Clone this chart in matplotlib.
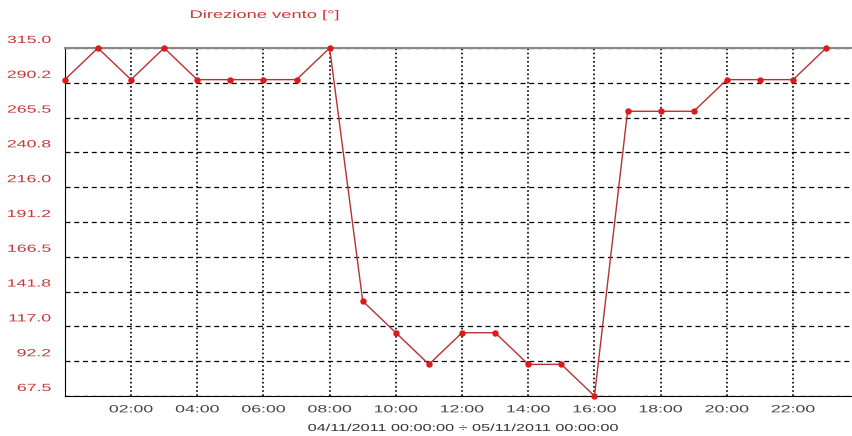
import numpy as np
import matplotlib
matplotlib.use("Agg")
import matplotlib.pyplot as plt
import matplotlib.transforms as mtransforms
import matplotlib.patheffects as pe

# hourly wind direction, 04/11/2011
hours = [0, 1, 2, 3, 4, 5, 6, 7, 8, 9, 10, 11, 12, 13, 14, 15, 16, 17, 18, 19, 20, 21, 22, 23]
direction = [292.5, 315.0, 292.5, 315.0, 292.5, 292.5, 292.5, 292.5, 315.0, 135.0, 112.5, 90.0,
             112.5, 112.5, 90.0, 90.0, 67.5, 270.0, 270.0, 270.0, 292.5, 292.5, 292.5, 315.0]

xtick_pos = [2, 4, 6, 8, 10, 12, 14, 16, 18, 20, 22]
xtick_labels = ["02:00", "04:00", "06:00", "08:00", "10:00", "12:00",
                "14:00", "16:00", "18:00", "20:00", "22:00"]
ytick_vals = [67.5, 92.2, 117.0, 141.8, 166.5, 191.2, 216.0, 240.8, 265.5, 290.2, 315.0]
ytick_labels = ["67.5", "92.2", "117.0", "141.8", "166.5", "191.2",
                "216.0", "240.8", "265.5", "290.2", "315.0"]

title = "Direzione vento [°]"
period = "04/11/2011 00:00:00 ÷ 05/11/2011 00:00:00"

red_txt = "#c83737"
plt.rcParams["font.family"] = ["Liberation Sans", "DejaVu Sans"]


class StretchX(pe.AbstractPathEffect):
    """widen text horizontally, like the stretched screenshot"""
    def __init__(self, sx, anchor="center"):
        super().__init__()
        self.sx = sx
        self.anchor = anchor

    def draw_path(self, renderer, gc, tpath, affine, rgbFace=None):
        ext = tpath.transformed(affine).get_extents()
        if self.anchor == "right":
            xa = ext.x1
        elif self.anchor == "left":
            xa = ext.x0
        else:
            xa = (ext.x0 + ext.x1) / 2
        new = affine + mtransforms.Affine2D().translate(-xa, 0).scale(self.sx, 1).translate(xa, 0)
        renderer.draw_path(gc, tpath, new, rgbFace)


fig = plt.figure(figsize=(8.53, 4.36), dpi=100)
ax = fig.add_axes([64.8 / 853, 40 / 436, 1 - 64.8 / 853, 348 / 436])

ax.plot(hours, direction, color="#b83030", lw=1.0, marker="o", ms=3.6,
        mfc="#dd1a1a", mec="#dd1a1a", zorder=3, clip_on=False)

ax.set_xlim(0, 23.81)
ax.set_ylim(67.5, 315.0)

ax.set_xticks(xtick_pos)
ax.set_xticklabels(xtick_labels, fontsize=7.5, color="#444444")
ax.set_yticks(ytick_vals)
ax.set_yticklabels(ytick_labels, fontsize=7.5, color=red_txt)
ax.tick_params(axis="both", length=0)
ax.tick_params(axis="x", pad=6)
ax.tick_params(axis="y", pad=10)

# labels sit a little above their grid lines
offset = mtransforms.ScaledTranslation(0, 9 / 100, fig.dpi_scale_trans)
for lab in ax.get_yticklabels():
    lab.set_transform(lab.get_transform() + offset)
    lab.set_path_effects([StretchX(1.7, "right")])
for lab in ax.get_xticklabels():
    lab.set_path_effects([StretchX(1.7, "center")])

ax.yaxis.grid(True, color="black", linestyle=(0, (4, 3)), lw=0.9)
ax.xaxis.grid(True, color="black", linestyle=(0, (1, 1.5)), lw=1.2)
ax.set_axisbelow(True)

ax.spines["top"].set_color("#888888")
ax.spines["top"].set_linewidth(1.5)
ax.spines["right"].set_visible(False)
ax.spines["left"].set_color("black")
ax.spines["bottom"].set_color("black")

fig.text(265 / 853, 1 - 15 / 436, title, color=red_txt, fontsize=8, ha="center", va="center",
         path_effects=[StretchX(1.65, "center")])
fig.text(463 / 853, 1 - 428 / 436, period, color="#333333", fontsize=7.3, ha="center", va="center",
         path_effects=[StretchX(1.6, "center")])

fig.savefig("out.png", dpi=100)
